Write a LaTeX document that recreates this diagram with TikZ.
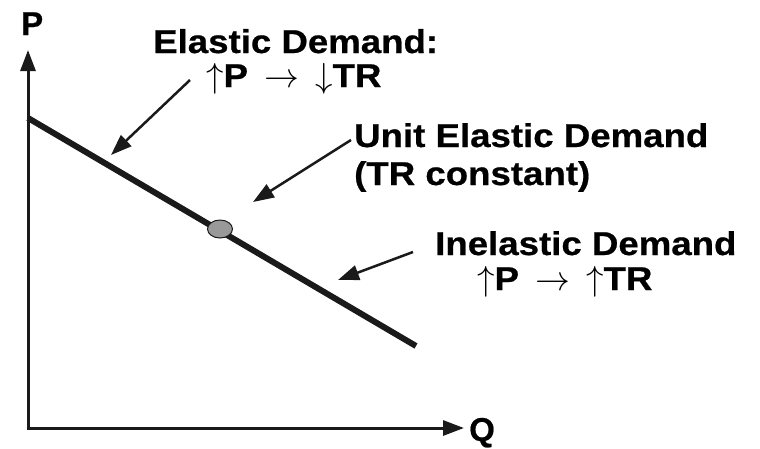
\documentclass[tikz,border=0pt]{standalone}
\usepackage{fontspec}
\usepackage{graphicx}
\usetikzlibrary{arrows.meta}
\newfontfamily\lblfont[FakeStretch=1.11,FakeBold=0.6]{Liberation Sans}
\newfontfamily\axfont[FakeBold=0.6]{Liberation Sans}
\newcommand\myup{\smash{\scalebox{1.4}{$\uparrow$}}}
\newcommand\mydown{\smash{\scalebox{1.4}{$\downarrow$}}}
\newcommand\myright{\hspace{6pt}\smash{\scalebox{1.4}{$\rightarrow$}}\hspace{6pt}}
\definecolor{ink}{HTML}{1A1A1A}
\begin{document}
\begin{tikzpicture}[x=1pt,y=-1pt,
  lbl/.style={font=\lblfont\fontsize{33}{33}\selectfont\bfseries, text=black, inner sep=0pt, anchor=base west},
  axlbl/.style={font=\axfont\fontsize{33}{33}\selectfont\bfseries, text=black, inner sep=0pt, anchor=base west},
  axis/.style={draw=ink, line width=3pt, -{Triangle[length=21pt,width=15pt]}},
  pointer/.style={draw=ink, line width=2.5pt, -{Triangle[length=21pt,width=15pt]}},
  demand/.style={draw=ink, line width=6pt}]
\useasboundingbox (0,0) rectangle (760,448);
% axes
\coordinate (O) at (28,428);
\coordinate (Ptop) at (28,50);
\coordinate (Qend) at (464,428);
\draw[axis] (28,428) -- (Ptop);
\draw[axis] (26.5,428) -- (Qend);
\node[axlbl] (P) at (21,35) {P};
\node[axlbl] (Q) at (469,441) {Q};
% demand line
\coordinate (D1) at (28,118);
\coordinate (D2) at (416,346);
\draw[demand] (D1) -- (D2);
\draw[ink, line width=1pt, fill=black!40] (220,229) ellipse [x radius=12.5, y radius=9];
\node (dot) at (220,229) {};
% labels
\node[lbl] (el1) at (153,53) {Elastic Demand:};
\node[lbl] (el2) at (206,87) {\myup P \myright{} \mydown TR};
\node[lbl] (un1) at (354,147) {Unit Elastic Demand};
\node[lbl] (un2) at (354,185) {(TR constant)};
\node[lbl] (in1) at (435,255) {Inelastic Demand};
\node[lbl] (in2) at (477,290) {\myup P \myright{} \myup TR};
% pointers
\coordinate (a1s) at (190,80);
\coordinate (a1e) at (111,155);
\coordinate (a2s) at (351,140);
\coordinate (a2e) at (253,202);
\coordinate (a3s) at (413,252);
\coordinate (a3e) at (338,280);
\draw[pointer] (a1s) -- (a1e);
\draw[pointer] (a2s) -- (a2e);
\draw[pointer] (a3s) -- (a3e);
\end{tikzpicture}
\end{document}
